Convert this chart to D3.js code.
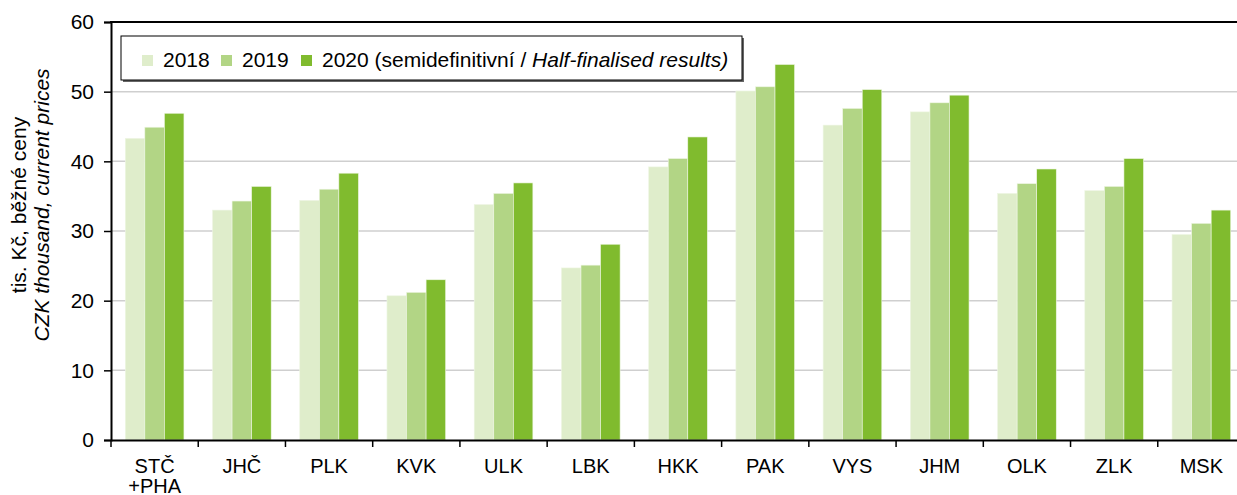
<!DOCTYPE html>
<html>
<head>
<meta charset="utf-8">
<script src="https://cdn.jsdelivr.net/npm/d3@7"></script>
<style>
  body { margin: 0; background: #fff; }
  text { font-family: "Liberation Sans", Arial, sans-serif; fill: #000; }
</style>
</head>
<body>
<svg id="chart" width="1237" height="495"></svg>
<script>
// regions and yearly values, tis. Kč
const regions = ["STČ\n+PHA", "JHČ", "PLK", "KVK", "ULK", "LBK", "HKK", "PAK", "VYS", "JHM", "OLK", "ZLK", "MSK"];
const years = ["2018", "2019", "2020"];
const values2018 = [43.3, 33.0, 34.4, 20.7, 33.8, 24.7, 39.2, 50.1, 45.2, 47.1, 35.4, 35.8, 29.5];
const values2019 = [44.9, 34.3, 36.0, 21.2, 35.4, 25.1, 40.4, 50.7, 47.6, 48.4, 36.8, 36.4, 31.1];
const values2020 = [46.9, 36.4, 38.3, 23.0, 36.9, 28.1, 43.5, 53.9, 50.3, 49.5, 38.9, 40.4, 33.0];
const yTicks = [0, 10, 20, 30, 40, 50, 60];
const colors = ["#dfedcb", "#b2d585", "#80bb2e"];

const series = [values2018, values2019, values2020];

const margin = {left: 111, top: 22, right: 1245, bottom: 440};
const svg = d3.select("#chart");

let x = d3.scaleBand()
    .domain(regions)
    .range([margin.left, margin.right])
    .paddingInner(0)
    .paddingOuter(0);
let xInner = d3.scaleBand()
    .domain(years)
    .range([0, x.bandwidth()])
    .paddingOuter(0.73)
    .paddingInner(0);
let y = d3.scaleLinear().domain([0, 60]).range([margin.bottom, margin.top]);

// gridlines
svg.append('g').attr('class', "grid")
    .selectAll('line').data(yTicks.filter(t => t > 0 && t < 60))
    .enter().append('line')
    .attr('x1', margin.left).attr('x2', margin.right)
    .attr('y1', d => y(d)).attr('y2', d => y(d))
    .attr('stroke', "#cfcfcf").attr('stroke-width', 1.5);

// bars
let groups = svg.append('g').selectAll('g').data(regions)
    .enter().append('g')
    .attr('transform', d => `translate(${x(d)},0)`);
groups.selectAll('rect')
    .data((d, i) => years.map((yr, k) => ({yr, v: series[k][i], k})))
    .enter().append('rect')
    .attr('x', d => xInner(d.yr))
    .attr('width', xInner.bandwidth())
    .attr('y', d => y(d.v))
    .attr('height', d => y(0) - y(d.v))
    .attr('fill', d => colors[d.k])
    .attr('stroke', "#eef6e4").attr('stroke-width', 0.6);

// top border
svg.append('line')
    .attr('x1', margin.left - 1).attr('x2', margin.right)
    .attr('y1', margin.top).attr('y2', margin.top)
    .attr('stroke', "#000").attr('stroke-width', 2);

// y axis
let yAxis = svg.append('g')
    .attr('transform', `translate(${margin.left},0)`)
    .call(d3.axisLeft(y).tickValues(yTicks).tickSize(7).tickPadding(10));
yAxis.select('.domain').attr('stroke-width', 2);
yAxis.selectAll('.tick line').attr('stroke-width', 1.5);
yAxis.selectAll('text').style('font-size', "21px");

// x axis
let xAxis = svg.append('g')
    .attr('transform', `translate(0,${margin.bottom})`)
    .call(d3.axisBottom(x).tickSize(0).tickFormat(""));
xAxis.select('.domain').attr('stroke-width', 2);
xAxis.selectAll('.tick').remove();
svg.append('g').selectAll('line').data(regions)
    .enter().append('line')
    .attr('x1', d => x(d)).attr('x2', d => x(d))
    .attr('y1', margin.bottom).attr('y2', margin.bottom + 7)
    .attr('stroke', "#000").attr('stroke-width', 1.5);
svg.append('g').selectAll('text').data(regions)
    .enter().append('text')
    .attr('text-anchor', "middle")
    .style('font-size', "20px")
    .attr('x', d => x(d) + x.bandwidth() / 2)
    .each(function(d) {
        let lines = d.split("\n");
        d3.select(this).selectAll('tspan').data(lines).enter().append('tspan')
            .attr('x', x(d) + x.bandwidth() / 2)
            .attr('y', (l, i) => 473 + i * 20)
            .text(l => l);
    });

// y title
let yt = svg.append('text')
    .attr('transform', "translate(0,205) rotate(-90)")
    .attr('text-anchor', "middle")
    .style('font-size', "21px");
yt.append('tspan').attr('x', 0).attr('y', 26).text("tis. Kč, běžné ceny");
yt.append('tspan').attr('x', 0).attr('y', 49).style('font-style', "italic").text("CZK thousand, current prices");

// legend
let lg = svg.append('g');
lg.append('rect')
    .attr('x', 123).attr('y', 38).attr('width', 621).attr('height', 44)
    .attr('fill', "#666");
lg.append('rect')
    .attr('x', 121).attr('y', 36).attr('width', 621).attr('height', 44)
    .attr('fill', "#fff").attr('stroke', "#000").attr('stroke-width', 1);
const legendX = [142, 221, 301];
years.forEach((yr, k) => {
    lg.append('rect')
        .attr('x', legendX[k]).attr('y', 55).attr('width', 11).attr('height', 11)
        .attr('fill', colors[k]);
    let t = lg.append('text')
        .attr('x', legendX[k] + 21).attr('y', 67)
        .style('font-size', "21px");
    t.append('tspan').text(yr);
    if (k === 2) {
        t.append('tspan').text(" (semidefinitivní / ");
        t.append('tspan').style('font-style', "italic").text("Half-finalised results)");
    }
});
</script>
</body>
</html>
